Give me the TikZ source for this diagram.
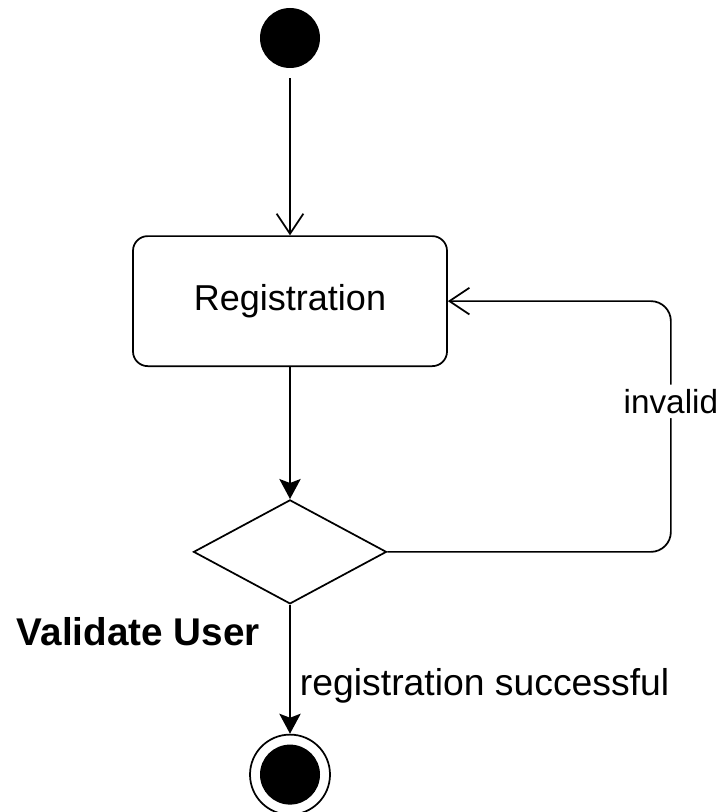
\documentclass[tikz,border=0pt]{standalone}
\usepackage{fontspec}
\setmainfont{Liberation Sans}
\usepackage{tikz}
\usetikzlibrary{positioning,shapes.geometric,arrows.meta}
\tikzstyle{startstate}=[circle,fill=black,minimum size=45pt,inner sep=0]
\tikzstyle{endstate}=[circle,draw,line width=1.3pt,minimum size=60pt,inner sep=0]
\tikzstyle{activity}=[draw,line width=1.3pt,rounded corners=11pt,minimum width=235.5pt,minimum height=97.5pt,font=\fontsize{27}{32}\selectfont]
\tikzstyle{decision}=[diamond,draw,line width=1.3pt,minimum width=144.75pt,minimum height=78pt,inner sep=0]
\tikzstyle{lbl}=[font=\fontsize{28}{33}\selectfont]
\tikzstyle{openarr}=[line width=1.3pt,-{Straight Barb[length=15pt,width=20pt]}]
\tikzstyle{fillarr}=[line width=1.3pt,-{Stealth[length=15pt,width=16pt,inset=3pt]}]

\begin{document}
\begin{tikzpicture}[x=0.75pt,y=-0.75pt]
\useasboundingbox (0,0) rectangle (724,812);

\node[startstate] (start) at (290,38) {};

\node[activity, below=125.25pt of start] (reg) {Registration};

\node[decision, below=99pt of reg] (dec) {};

\node[lbl, font=\fontsize{29}{34}\selectfont\bfseries, inner sep=0, below left=9pt and 22.5pt of dec.south] (valid) {Validate User};

\node[endstate, below=96.75pt of dec] (end) {};
\node[startstate] (endin) at (end) {};

\draw[openarr, shorten <=7.5pt] (start) -- (reg);
\draw[fillarr] (reg) -- (dec);
\draw[fillarr] (dec) -- node[lbl, right, xshift=3.5pt, pos=0.63] (succ) {registration successful} (end);
\draw[openarr, rounded corners=15pt] (dec.east) -- ++(283.5,0) |- node[lbl, font=\fontsize{25}{30}\selectfont, fill=white, pos=0.3] (inv) {invalid} (reg.east);

\end{tikzpicture}
\end{document}
